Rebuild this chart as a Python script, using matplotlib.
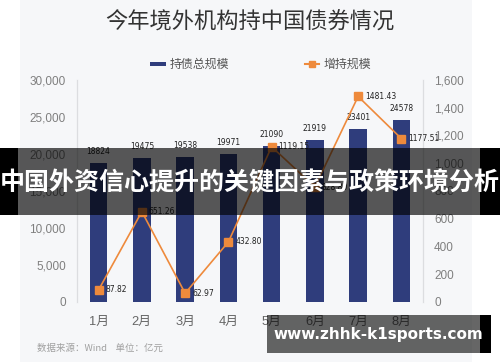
import matplotlib
matplotlib.use("Agg")
import matplotlib.pyplot as plt
from matplotlib.patches import Rectangle
from matplotlib.lines import Line2D

plt.rcParams['font.family'] = ['Noto Sans CJK SC', 'DejaVu Sans']

# ── Data ──────────────────────────────────────────────────────────────────────
MONTHS   = ["1月", "2月", "3月", "4月", "5月", "6月", "7月", "8月"]
HOLDINGS = [18824, 19475, 19538, 19971, 21090, 21919, 23401, 24578]
INCREASE = [87.82, 651.26, 62.97, 432.80, 1119.15, 828.80, 1481.43, 1177.51]

LEFT_TICKS  = [0, 5000, 10000, 15000, 20000, 25000, 30000]
RIGHT_TICKS = [0, 200, 400, 600, 800, 1000, 1200, 1400, 1600]

BAR_COLOR  = "#2f3d7c"
LINE_COLOR = "#ee8a3c"
TICK_COLOR = "#7f7f7f"
NUM_FONT   = ['Liberation Sans', 'Noto Sans CJK SC']

W, H = 500, 362

def fx(px):
    return px / W

def fy(py):
    return 1 - py / H

fig = plt.figure(figsize=(5, 3.62), dpi=100)
fig.patch.set_facecolor("white")

# card background
fig.patches.append(Rectangle((fx(20), 0), fx(452), 1, transform=fig.transFigure,
                             facecolor="#f6f7f9", edgecolor="none", zorder=-2))

ax = fig.add_axes([fx(77), fy(302), fx(346), fy(80) - fy(302)])
ax.set_facecolor("none")
ax2 = ax.twinx()

x = list(range(len(MONTHS)))
ax.bar(x, HOLDINGS, width=0.4, color=BAR_COLOR, zorder=2)
for xi, v in zip(x, HOLDINGS):
    ax.annotate(f"{v}", (xi, v), xytext=(0, 5), textcoords="offset points",
                ha="center", va="bottom", fontsize=5.5, color="#222222",
                family="DejaVu Sans")

ax2.plot(x, INCREASE, color=LINE_COLOR, lw=1.2, marker="s", ms=6,
         mfc=LINE_COLOR, mec=LINE_COLOR, zorder=3)
for xi, v in zip(x, INCREASE):
    ax2.annotate(f"{v:.2f}", (xi, v), xytext=(5, 0), textcoords="offset points",
                 ha="left", va="center", fontsize=5.5, color="#222222",
                 family="DejaVu Sans")

ax.set_xlim(-0.5, len(MONTHS) - 0.5)
ax.set_ylim(0, 30000)
ax2.set_ylim(0, 1600)
ax.set_yticks(LEFT_TICKS)
ax.set_yticklabels([f"{t:,}" for t in LEFT_TICKS])
ax2.set_yticks(RIGHT_TICKS)
ax2.set_yticklabels([f"{t:,}" for t in RIGHT_TICKS])
ax.set_xticks(x)
ax.set_xticklabels(MONTHS)

for a in (ax, ax2):
    for s in ("top", "bottom"):
        a.spines[s].set_visible(False)
    a.spines["left"].set_color("#dcdde0")
    a.spines["right"].set_color("#dcdde0")
    a.tick_params(length=0, labelsize=8.5, labelcolor=TICK_COLOR)
    for lab in a.get_yticklabels():
        lab.set_family(NUM_FONT)
ax.tick_params(axis="y", pad=8)
ax2.tick_params(axis="y", pad=8)
ax.tick_params(axis="x", pad=10, labelsize=9.3, labelcolor="#666666")
for lab in ax.get_xticklabels():
    lab.set_family(NUM_FONT)

# title
fig.text(0.5, fy(22), "今年境外机构持中国债券情况", ha="center", va="center",
         fontsize=16, color="#333333")

# legend
fig.patches.append(Rectangle((fx(150), fy(66)), fx(16), 4 / H, transform=fig.transFigure,
                             facecolor=BAR_COLOR, edgecolor="none"))
fig.text(fx(170), fy(64), "持债总规模", ha="left", va="center", fontsize=8.6, color="#555555")
fig.lines.append(Line2D([fx(305), fx(319)], [fy(64), fy(64)], transform=fig.transFigure,
                        color=LINE_COLOR, lw=1.5))
fig.lines.append(Line2D([fx(312)], [fy(64)], transform=fig.transFigure, marker="s",
                        ms=5, color=LINE_COLOR, lw=0))
fig.text(fx(324), fy(64), "增持规模", ha="left", va="center", fontsize=8.6, color="#555555")

# source note
fig.text(fx(37), fy(348), "数据来源：Wind    单位：亿元", ha="left", va="center",
         fontsize=6.8, color="#a0a0a0")

# overlay band with headline
fig.patches.append(Rectangle((0, fy(215)), 1, 67 / H, transform=fig.transFigure,
                             facecolor="black", alpha=0.65, edgecolor="none", zorder=5))
fig.patches.append(Rectangle((0, fy(215)), fx(18), 67 / H, transform=fig.transFigure,
                             facecolor="black", edgecolor="none", zorder=5))
fig.patches.append(Rectangle((fx(480), fy(215)), fx(20), 67 / H, transform=fig.transFigure,
                             facecolor="black", edgecolor="none", zorder=5))
fig.text(0.5, fy(183), "中国外资信心提升的关键因素与政策环境分析", ha="center", va="center",
         fontsize=18, fontweight="bold", color="white", zorder=6)

# bottom-right watermark banner
fig.patches.append(Rectangle((fx(267), fy(353)), fx(213), 38 / H, transform=fig.transFigure,
                             facecolor="black", alpha=0.6, edgecolor="none", zorder=5))
fig.patches.append(Rectangle((fx(480), fy(353)), fx(11), 38 / H, transform=fig.transFigure,
                             facecolor="black", edgecolor="none", zorder=5))
fig.text(fx(378), fy(335), "www.zhhk-k1sports.com", ha="center", va="center",
         fontsize=11, fontweight="bold", color="white", zorder=6,
         family="DejaVu Sans")

fig.savefig("out.png", dpi=100)
